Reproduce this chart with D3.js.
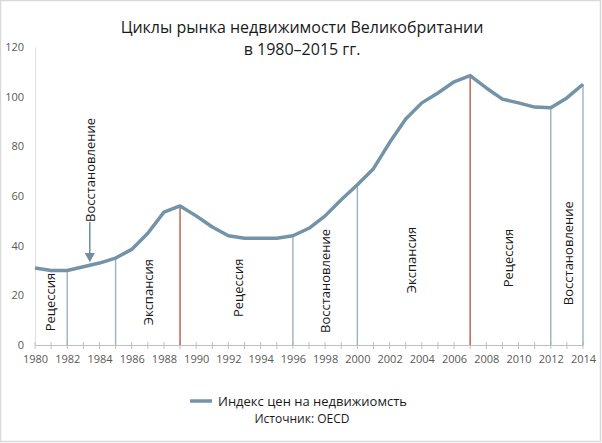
<!DOCTYPE html>
<html>
<head>
<meta charset="utf-8">
<script src="https://cdn.jsdelivr.net/npm/d3@7"></script>
<style>
  html, body { margin: 0; padding: 0; background: #fff; }
  svg { display: block; }
</style>
</head>
<body>
<svg id="chart" width="602" height="443"></svg>
<script>
// Индекс цен на недвижимость, Великобритания (OECD), 1980–2014
const years = d3.range(1980, 2015);
const index = [31, 30, 30, 31.5, 33, 35, 38.5, 45, 53.5, 56, 52, 47.5, 44, 43, 43, 43, 44, 47, 52, 58.5,
  64.5, 71, 81.5, 91, 97.5, 101.5, 106, 108.5, 103.5, 99, 97.5, 95.8, 95.5, 99.5, 105];

// точки разворота цикла (красные — пики)
const turns = [1982, 1985, 1989, 1996, 2000, 2007, 2012, 2014];
const peaks = [1989, 2007];

// подписи фаз: год и середина подписи по оси Y
const phaseNames = ['Рецессия', 'Экспансия', 'Рецессия', 'Восстановление', 'Экспансия', 'Рецессия', 'Восстановление'];
const phaseYear = [1980.95, 1987.0, 1992.6, 1998.0, 2003.3, 2009.35, 2013.07];
const phaseMid = [17.3, 21.3, 23, 25.8, 34.2, 35, 37];

const yTicks = [0, 20, 40, 60, 80, 100, 120];
const xTicks = d3.range(1980, 2015, 2);

const W = 602, H = 443;
const M = { left: 35, right: 19, top: 47, bottom: 98 };
const svg = d3.select('#chart');
const FONT = '"Open Sans", "DejaVu Sans", sans-serif';

// рамка области диаграммы
svg.append('rect').attr('x', 0.5).attr('y', 0.5).attr('width', W - 2).attr('height', H - 2)
  .attr('fill', '#fff').attr('stroke', '#d9d9d9').attr('stroke-width', 1.5);

const x = d3.scaleLinear().domain([1980, 2014]).range([M.left, W - M.right]);
const y = d3.scaleLinear().domain([0, 120]).range([H - M.bottom, M.top]);

// заголовок
const title = svg.append('text').attr('x', 302).attr('text-anchor', 'middle')
  .attr('font-family', FONT).style('font-size', '16px').attr('fill', '#1a1a1a');
title.append('tspan').attr('x', 302).attr('y', 33).text('Циклы рынка недвижимости Великобритании');
title.append('tspan').attr('x', 302).attr('y', 55).text('в 1980–2015 гг.');

// ось Y
const yAxis = svg.append('g').attr('transform', `translate(${M.left},0)`)
  .call(d3.axisLeft(y).tickValues(yTicks).tickSize(0).tickPadding(11));
yAxis.select('.domain').attr('stroke', '#e0e0e0');
yAxis.selectAll('text').attr('font-family', FONT).style('font-size', '11px').attr('fill', '#595959');

// ось X
const xAxis = svg.append('g').attr('transform', `translate(0,${y(0)})`)
  .call(d3.axisBottom(x).tickValues(xTicks).tickFormat(d3.format('d')).tickSize(0).tickPadding(10));
xAxis.select('.domain').attr('stroke', '#bfbfbf');
xAxis.selectAll('text').attr('font-family', FONT).style('font-size', '11px').attr('fill', '#595959');
svg.append('g').selectAll('line').data(years).join('line')
  .attr('x1', d => x(d)).attr('x2', d => x(d))
  .attr('y1', y(0) - 3).attr('y2', y(0) + 4)
  .attr('stroke', '#bfbfbf').attr('stroke-width', 1);

// вертикальные линии точек разворота
svg.append('g').selectAll('line').data(turns).join('line')
  .attr('x1', d => x(d)).attr('x2', d => x(d))
  .attr('y1', d => y(index[years.indexOf(d)])).attr('y2', y(0))
  .attr('stroke', d => peaks.includes(d) ? '#bf6457' : '#9ab3c3')
  .attr('stroke-width', d => peaks.includes(d) ? 1.5 : 1.4);

// линия индекса
const line = d3.line().x((d, i) => x(years[i])).y(d => y(d));
svg.append('path').datum(index).attr('d', line)
  .attr('fill', 'none').attr('stroke', '#7393a7').attr('stroke-width', 3.5)
  .attr('stroke-linejoin', 'round');

// подписи фаз
svg.append('g').selectAll('text').data(phaseNames).join('text')
  .attr('transform', (d, i) => `translate(${x(phaseYear[i])},${y(phaseMid[i])}) rotate(-90)`)
  .attr('text-anchor', 'middle').attr('dominant-baseline', 'central')
  .attr('font-family', FONT).style('font-size', '13px').attr('fill', '#1a1a1a')
  .text(d => d);

// «Восстановление» со стрелкой 1983–84
const ax = x(1983.4);
svg.append('text')
  .attr('transform', `translate(${ax},${y(70.5)}) rotate(-90)`)
  .attr('text-anchor', 'middle').attr('dominant-baseline', 'central')
  .attr('font-family', FONT).style('font-size', '13px').attr('fill', '#1a1a1a')
  .text('Восстановление');
svg.append('line').attr('x1', ax).attr('x2', ax).attr('y1', y(49.5)).attr('y2', y(37))
  .attr('stroke', '#6f8ea3').attr('stroke-width', 1.5);
svg.append('path')
  .attr('d', `M${ax - 5},${y(37)} L${ax + 5},${y(37)} L${ax},${y(33.3)} Z`)
  .attr('fill', '#6f8ea3');

// легенда и источник
svg.append('line').attr('x1', 190).attr('x2', 212).attr('y1', 401).attr('y2', 401)
  .attr('stroke', '#7393a7').attr('stroke-width', 3.5);
svg.append('text').attr('x', 218).attr('y', 405.5)
  .attr('font-family', FONT).style('font-size', '13px').attr('fill', '#1a1a1a')
  .text('Индекс цен на недвижиомсть');
svg.append('text').attr('x', 302).attr('y', 423).attr('text-anchor', 'middle')
  .attr('font-family', FONT).style('font-size', '12px').attr('fill', '#1a1a1a')
  .text('Источник: OECD');
</script>
</body>
</html>
